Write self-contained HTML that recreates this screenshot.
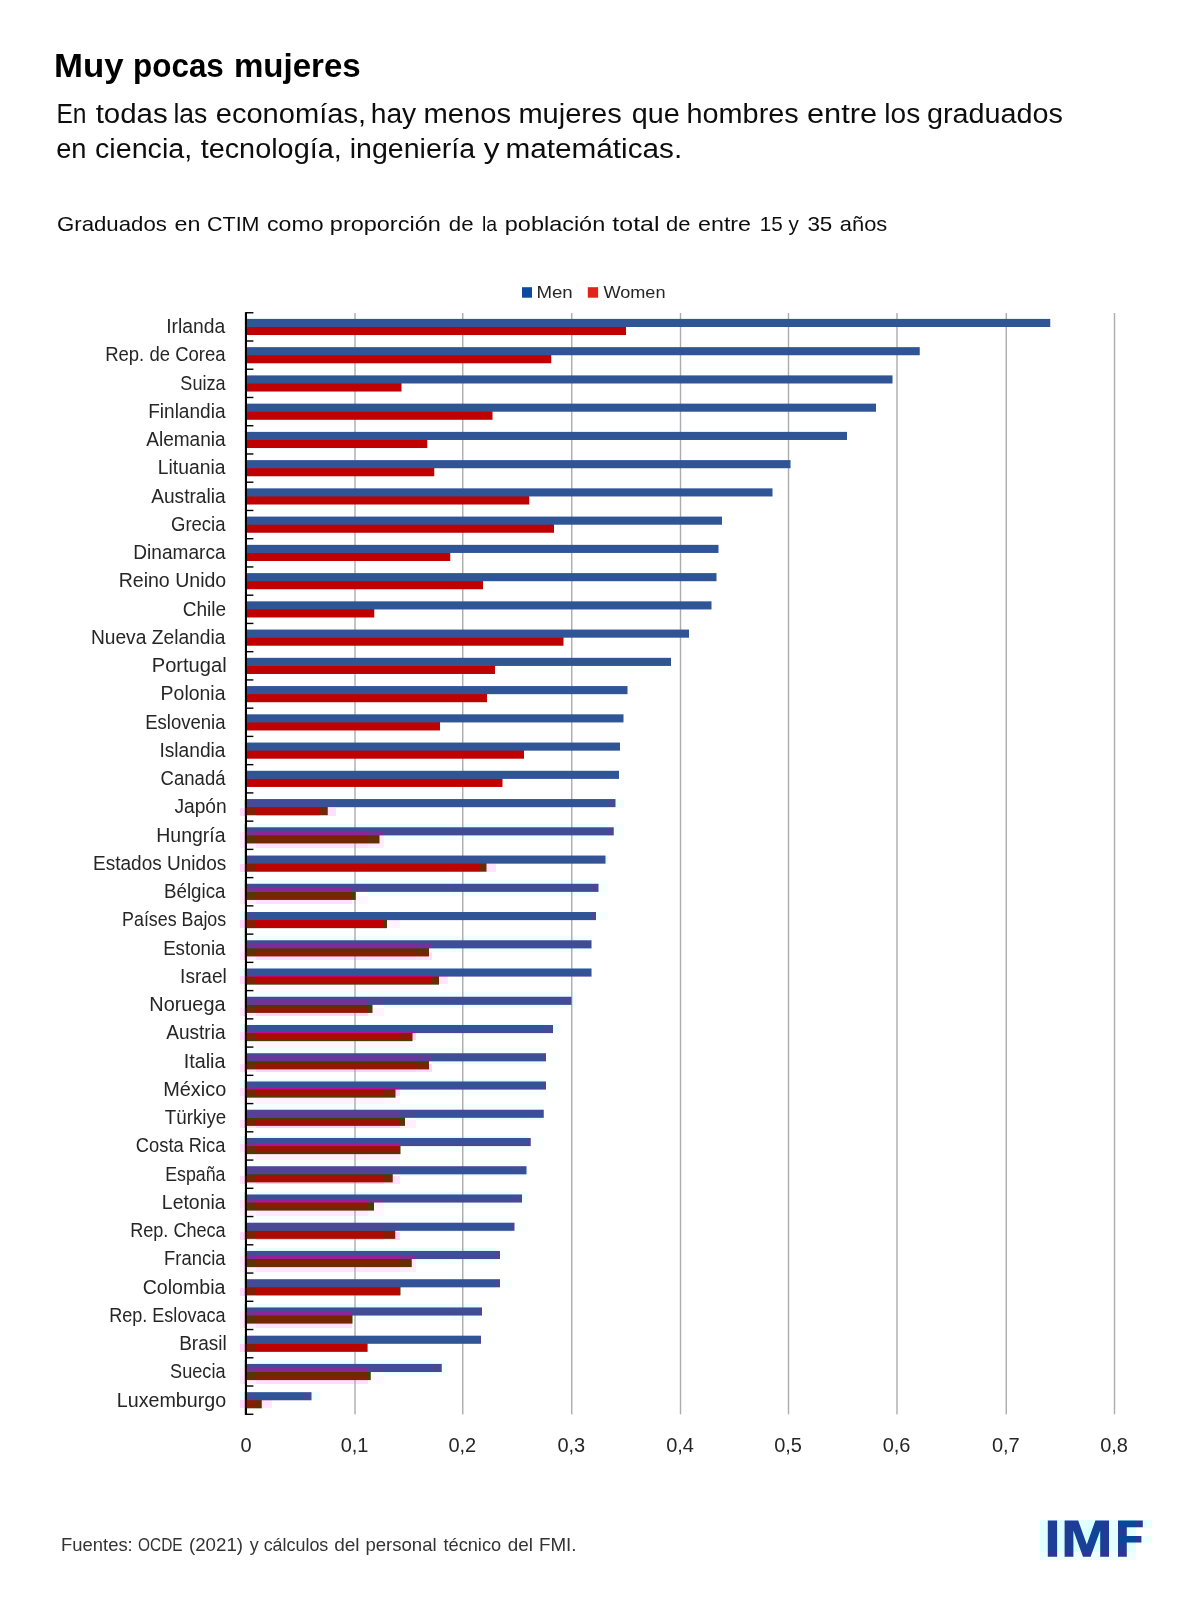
<!DOCTYPE html>
<html lang="es"><head><meta charset="utf-8"><title>Muy pocas mujeres</title>
<style>
html,body{margin:0;padding:0;background:#fff;}
body{width:1200px;height:1600px;overflow:hidden;position:relative;font-family:"Liberation Sans",sans-serif;}
svg{position:absolute;left:0;top:0;display:block;will-change:transform;}
text{font-family:"Liberation Sans",sans-serif;}
.cat{font-size:19.3px;fill:#262626;text-anchor:end;}
.ax{font-size:20px;fill:#262626;text-anchor:middle;}
.lg{font-size:16.6px;fill:#262626;}
</style></head><body>
<svg width="1200" height="1600" viewBox="0 0 1200 1600">
<rect width="1200" height="1600" fill="#ffffff"/>
<g shape-rendering="crispEdges">
<rect x="240" y="800" width="16" height="8" fill="#f6ffff"/>
<rect x="256" y="800" width="64" height="8" fill="#efffff"/>
<rect x="320" y="800" width="16" height="8" fill="#e7ffff"/>
<rect x="336" y="800" width="272" height="8" fill="#e1ffff"/>
<rect x="608" y="800" width="16" height="8" fill="#f1ffff"/>
<rect x="240" y="808" width="16" height="8" fill="#ffdcff"/>
<rect x="256" y="808" width="64" height="8" fill="#ffc1ff"/>
<rect x="320" y="808" width="16" height="8" fill="#ffe1ff"/>
<rect x="240" y="824" width="16" height="8" fill="#f4ffff"/>
<rect x="256" y="824" width="352" height="8" fill="#ebffff"/>
<rect x="608" y="824" width="16" height="8" fill="#f8ffff"/>
<rect x="240" y="832" width="16" height="8" fill="#ffedff"/>
<rect x="256" y="832" width="112" height="8" fill="#ffdfff"/>
<rect x="368" y="832" width="16" height="8" fill="#ffeaff"/>
<rect x="384" y="832" width="224" height="8" fill="#f1ffff"/>
<rect x="608" y="832" width="16" height="8" fill="#faffff"/>
<rect x="240" y="840" width="16" height="8" fill="#ffeeff"/>
<rect x="256" y="840" width="112" height="8" fill="#ffe1ff"/>
<rect x="368" y="840" width="16" height="8" fill="#ffeaff"/>
<rect x="240" y="848" width="16" height="8" fill="#feffff"/>
<rect x="256" y="848" width="352" height="8" fill="#fdffff"/>
<rect x="240" y="856" width="16" height="8" fill="#f0ffff"/>
<rect x="256" y="856" width="224" height="8" fill="#e4ffff"/>
<rect x="480" y="856" width="16" height="8" fill="#e1ffff"/>
<rect x="496" y="856" width="96" height="8" fill="#deffff"/>
<rect x="592" y="856" width="16" height="8" fill="#e3ffff"/>
<rect x="240" y="864" width="16" height="8" fill="#ffdaff"/>
<rect x="256" y="864" width="224" height="8" fill="#ffbdff"/>
<rect x="480" y="864" width="16" height="8" fill="#ffe4ff"/>
<rect x="240" y="880" width="16" height="8" fill="#f5ffff"/>
<rect x="256" y="880" width="336" height="8" fill="#edffff"/>
<rect x="592" y="880" width="16" height="8" fill="#f8ffff"/>
<rect x="240" y="888" width="16" height="8" fill="#fff0ff"/>
<rect x="256" y="888" width="96" height="8" fill="#ffe4ff"/>
<rect x="368" y="888" width="224" height="8" fill="#eeffff"/>
<rect x="592" y="888" width="16" height="8" fill="#f8ffff"/>
<rect x="240" y="896" width="16" height="8" fill="#ffecff"/>
<rect x="256" y="896" width="96" height="8" fill="#ffddff"/>
<rect x="352" y="896" width="16" height="8" fill="#fff7ff"/>
<rect x="240" y="912" width="16" height="8" fill="#ecffff"/>
<rect x="256" y="912" width="336" height="8" fill="#ddffff"/>
<rect x="592" y="912" width="16" height="8" fill="#f6ffff"/>
<rect x="240" y="920" width="16" height="8" fill="#ffd9ff"/>
<rect x="256" y="920" width="128" height="8" fill="#ffbcff"/>
<rect x="384" y="920" width="16" height="8" fill="#fff3ff"/>
<rect x="240" y="928" width="144" height="8" fill="#fffeff"/>
<rect x="240" y="936" width="16" height="8" fill="#f6ffff"/>
<rect x="256" y="936" width="320" height="8" fill="#efffff"/>
<rect x="576" y="936" width="16" height="8" fill="#f0ffff"/>
<rect x="240" y="944" width="16" height="8" fill="#fff3ff"/>
<rect x="256" y="944" width="160" height="8" fill="#ffe9ff"/>
<rect x="416" y="944" width="16" height="8" fill="#ffefff"/>
<rect x="432" y="944" width="144" height="8" fill="#ecffff"/>
<rect x="576" y="944" width="16" height="8" fill="#edffff"/>
<rect x="240" y="952" width="16" height="8" fill="#ffeaff"/>
<rect x="256" y="952" width="160" height="8" fill="#ffd9ff"/>
<rect x="416" y="952" width="16" height="8" fill="#ffe0ff"/>
<rect x="240" y="968" width="16" height="8" fill="#edffff"/>
<rect x="256" y="968" width="320" height="8" fill="#dfffff"/>
<rect x="576" y="968" width="16" height="8" fill="#e0ffff"/>
<rect x="240" y="976" width="16" height="8" fill="#ffdcff"/>
<rect x="256" y="976" width="176" height="8" fill="#ffc1ff"/>
<rect x="432" y="976" width="16" height="8" fill="#ffe5ff"/>
<rect x="448" y="976" width="144" height="8" fill="#fcffff"/>
<rect x="240" y="984" width="16" height="8" fill="#fffcff"/>
<rect x="256" y="984" width="176" height="8" fill="#fff9ff"/>
<rect x="432" y="984" width="16" height="8" fill="#fffdff"/>
<rect x="240" y="992" width="16" height="8" fill="#f7ffff"/>
<rect x="256" y="992" width="304" height="8" fill="#f1ffff"/>
<rect x="560" y="992" width="16" height="8" fill="#f5ffff"/>
<rect x="240" y="1000" width="16" height="8" fill="#fff6ff"/>
<rect x="256" y="1000" width="112" height="8" fill="#ffefff"/>
<rect x="368" y="1000" width="16" height="8" fill="#f9ffff"/>
<rect x="384" y="1000" width="176" height="8" fill="#eaffff"/>
<rect x="560" y="1000" width="16" height="8" fill="#f0ffff"/>
<rect x="240" y="1008" width="16" height="8" fill="#ffe7ff"/>
<rect x="256" y="1008" width="112" height="8" fill="#ffd5ff"/>
<rect x="368" y="1008" width="16" height="8" fill="#fff3ff"/>
<rect x="240" y="1024" width="16" height="8" fill="#eeffff"/>
<rect x="256" y="1024" width="288" height="8" fill="#e1ffff"/>
<rect x="544" y="1024" width="16" height="8" fill="#eeffff"/>
<rect x="240" y="1032" width="16" height="8" fill="#ffdfff"/>
<rect x="256" y="1032" width="144" height="8" fill="#ffc6ff"/>
<rect x="400" y="1032" width="16" height="8" fill="#ffd3ff"/>
<rect x="416" y="1032" width="128" height="8" fill="#faffff"/>
<rect x="544" y="1032" width="16" height="8" fill="#fcffff"/>
<rect x="240" y="1040" width="16" height="8" fill="#fff9ff"/>
<rect x="256" y="1040" width="144" height="8" fill="#fff5ff"/>
<rect x="400" y="1040" width="16" height="8" fill="#fff7ff"/>
<rect x="240" y="1048" width="16" height="8" fill="#f8ffff"/>
<rect x="256" y="1048" width="288" height="8" fill="#f3ffff"/>
<rect x="544" y="1048" width="16" height="8" fill="#feffff"/>
<rect x="240" y="1056" width="16" height="8" fill="#fff9ff"/>
<rect x="256" y="1056" width="160" height="8" fill="#fff4ff"/>
<rect x="416" y="1056" width="16" height="8" fill="#fff8ff"/>
<rect x="432" y="1056" width="112" height="8" fill="#e8ffff"/>
<rect x="544" y="1056" width="16" height="8" fill="#fcffff"/>
<rect x="240" y="1064" width="16" height="8" fill="#ffe5ff"/>
<rect x="256" y="1064" width="160" height="8" fill="#ffd1ff"/>
<rect x="416" y="1064" width="16" height="8" fill="#ffd9ff"/>
<rect x="240" y="1080" width="16" height="8" fill="#efffff"/>
<rect x="256" y="1080" width="288" height="8" fill="#e3ffff"/>
<rect x="544" y="1080" width="16" height="8" fill="#fcffff"/>
<rect x="240" y="1088" width="16" height="8" fill="#ffe2ff"/>
<rect x="256" y="1088" width="128" height="8" fill="#ffccff"/>
<rect x="384" y="1088" width="16" height="8" fill="#ffdbff"/>
<rect x="400" y="1088" width="144" height="8" fill="#f8ffff"/>
<rect x="544" y="1088" width="16" height="8" fill="#feffff"/>
<rect x="240" y="1096" width="16" height="8" fill="#fff7ff"/>
<rect x="256" y="1096" width="128" height="8" fill="#fff1ff"/>
<rect x="384" y="1096" width="16" height="8" fill="#fff5ff"/>
<rect x="240" y="1104" width="16" height="8" fill="#faffff"/>
<rect x="256" y="1104" width="288" height="8" fill="#f5ffff"/>
<rect x="240" y="1112" width="16" height="8" fill="#fffcff"/>
<rect x="256" y="1112" width="144" height="8" fill="#fff9ff"/>
<rect x="400" y="1112" width="16" height="8" fill="#f1ffff"/>
<rect x="416" y="1112" width="112" height="8" fill="#e6ffff"/>
<rect x="528" y="1112" width="16" height="8" fill="#e7ffff"/>
<rect x="240" y="1120" width="16" height="8" fill="#ffe3ff"/>
<rect x="256" y="1120" width="144" height="8" fill="#ffcdff"/>
<rect x="400" y="1120" width="16" height="8" fill="#ffefff"/>
<rect x="240" y="1136" width="16" height="8" fill="#f1ffff"/>
<rect x="256" y="1136" width="272" height="8" fill="#e5ffff"/>
<rect x="528" y="1136" width="16" height="8" fill="#fbffff"/>
<rect x="240" y="1144" width="16" height="8" fill="#ffe5ff"/>
<rect x="256" y="1144" width="144" height="8" fill="#ffd1ff"/>
<rect x="400" y="1144" width="16" height="8" fill="#f9ffff"/>
<rect x="416" y="1144" width="112" height="8" fill="#f6ffff"/>
<rect x="528" y="1144" width="16" height="8" fill="#fdffff"/>
<rect x="240" y="1152" width="16" height="8" fill="#fff5ff"/>
<rect x="256" y="1152" width="144" height="8" fill="#ffedff"/>
<rect x="400" y="1152" width="16" height="8" fill="#fffeff"/>
<rect x="240" y="1160" width="16" height="8" fill="#fbffff"/>
<rect x="256" y="1160" width="256" height="8" fill="#f7ffff"/>
<rect x="512" y="1160" width="16" height="8" fill="#f8ffff"/>
<rect x="256" y="1168" width="128" height="8" fill="#fffeff"/>
<rect x="384" y="1168" width="16" height="8" fill="#f3ffff"/>
<rect x="400" y="1168" width="112" height="8" fill="#e4ffff"/>
<rect x="512" y="1168" width="16" height="8" fill="#e7ffff"/>
<rect x="240" y="1176" width="16" height="8" fill="#ffe0ff"/>
<rect x="256" y="1176" width="128" height="8" fill="#ffc8ff"/>
<rect x="384" y="1176" width="16" height="8" fill="#ffe1ff"/>
<rect x="240" y="1192" width="16" height="8" fill="#f2ffff"/>
<rect x="256" y="1192" width="256" height="8" fill="#e7ffff"/>
<rect x="512" y="1192" width="16" height="8" fill="#f0ffff"/>
<rect x="240" y="1200" width="16" height="8" fill="#ffe8ff"/>
<rect x="256" y="1200" width="112" height="8" fill="#ffd6ff"/>
<rect x="368" y="1200" width="16" height="8" fill="#fff3ff"/>
<rect x="384" y="1200" width="128" height="8" fill="#f4ffff"/>
<rect x="512" y="1200" width="16" height="8" fill="#f8ffff"/>
<rect x="240" y="1208" width="16" height="8" fill="#fff2ff"/>
<rect x="256" y="1208" width="112" height="8" fill="#ffe9ff"/>
<rect x="368" y="1208" width="16" height="8" fill="#fff7ff"/>
<rect x="240" y="1216" width="16" height="8" fill="#fcffff"/>
<rect x="256" y="1216" width="256" height="8" fill="#f9ffff"/>
<rect x="512" y="1216" width="16" height="8" fill="#feffff"/>
<rect x="240" y="1224" width="16" height="8" fill="#faffff"/>
<rect x="256" y="1224" width="128" height="8" fill="#f6ffff"/>
<rect x="384" y="1224" width="16" height="8" fill="#f0ffff"/>
<rect x="400" y="1224" width="112" height="8" fill="#e2ffff"/>
<rect x="512" y="1224" width="16" height="8" fill="#faffff"/>
<rect x="240" y="1232" width="16" height="8" fill="#ffdeff"/>
<rect x="256" y="1232" width="128" height="8" fill="#ffc4ff"/>
<rect x="384" y="1232" width="16" height="8" fill="#ffd6ff"/>
<rect x="240" y="1248" width="16" height="8" fill="#f3ffff"/>
<rect x="256" y="1248" width="240" height="8" fill="#e9ffff"/>
<rect x="496" y="1248" width="16" height="8" fill="#faffff"/>
<rect x="240" y="1256" width="16" height="8" fill="#ffebff"/>
<rect x="256" y="1256" width="144" height="8" fill="#ffdbff"/>
<rect x="400" y="1256" width="16" height="8" fill="#ffe7ff"/>
<rect x="416" y="1256" width="80" height="8" fill="#f2ffff"/>
<rect x="496" y="1256" width="16" height="8" fill="#fcffff"/>
<rect x="240" y="1264" width="16" height="8" fill="#fff0ff"/>
<rect x="256" y="1264" width="144" height="8" fill="#ffe4ff"/>
<rect x="400" y="1264" width="16" height="8" fill="#ffebff"/>
<rect x="240" y="1272" width="16" height="8" fill="#fdffff"/>
<rect x="256" y="1272" width="240" height="8" fill="#fcffff"/>
<rect x="496" y="1272" width="16" height="8" fill="#feffff"/>
<rect x="240" y="1280" width="16" height="8" fill="#f4ffff"/>
<rect x="256" y="1280" width="144" height="8" fill="#ecffff"/>
<rect x="400" y="1280" width="96" height="8" fill="#e0ffff"/>
<rect x="496" y="1280" width="16" height="8" fill="#f7ffff"/>
<rect x="240" y="1288" width="16" height="8" fill="#ffdcff"/>
<rect x="256" y="1288" width="144" height="8" fill="#ffc0ff"/>
<rect x="400" y="1288" width="16" height="8" fill="#fffdff"/>
<rect x="240" y="1304" width="16" height="8" fill="#f4ffff"/>
<rect x="256" y="1304" width="224" height="8" fill="#ecffff"/>
<rect x="480" y="1304" width="16" height="8" fill="#fdffff"/>
<rect x="240" y="1312" width="16" height="8" fill="#ffeeff"/>
<rect x="256" y="1312" width="96" height="8" fill="#ffe1ff"/>
<rect x="352" y="1312" width="16" height="8" fill="#f2ffff"/>
<rect x="368" y="1312" width="112" height="8" fill="#f0ffff"/>
<rect x="480" y="1312" width="16" height="8" fill="#fdffff"/>
<rect x="240" y="1320" width="16" height="8" fill="#ffeeff"/>
<rect x="256" y="1320" width="96" height="8" fill="#ffe0ff"/>
<rect x="352" y="1320" width="16" height="8" fill="#fffeff"/>
<rect x="256" y="1328" width="224" height="8" fill="#feffff"/>
<rect x="240" y="1336" width="16" height="8" fill="#eeffff"/>
<rect x="256" y="1336" width="112" height="8" fill="#e1ffff"/>
<rect x="368" y="1336" width="112" height="8" fill="#deffff"/>
<rect x="480" y="1336" width="16" height="8" fill="#fdffff"/>
<rect x="240" y="1344" width="16" height="8" fill="#ffd9ff"/>
<rect x="256" y="1344" width="96" height="8" fill="#ffbcff"/>
<rect x="352" y="1344" width="16" height="8" fill="#ffbeff"/>
<rect x="240" y="1360" width="16" height="8" fill="#f5ffff"/>
<rect x="256" y="1360" width="176" height="8" fill="#eeffff"/>
<rect x="432" y="1360" width="16" height="8" fill="#f4ffff"/>
<rect x="240" y="1368" width="16" height="8" fill="#fff1ff"/>
<rect x="256" y="1368" width="112" height="8" fill="#ffe6ff"/>
<rect x="368" y="1368" width="16" height="8" fill="#f9ffff"/>
<rect x="384" y="1368" width="48" height="8" fill="#eeffff"/>
<rect x="432" y="1368" width="16" height="8" fill="#f5ffff"/>
<rect x="240" y="1376" width="16" height="8" fill="#ffebff"/>
<rect x="256" y="1376" width="112" height="8" fill="#ffdcff"/>
<rect x="368" y="1376" width="16" height="8" fill="#fff9ff"/>
<rect x="240" y="1392" width="16" height="8" fill="#ecffff"/>
<rect x="256" y="1392" width="48" height="8" fill="#deffff"/>
<rect x="304" y="1392" width="16" height="8" fill="#efffff"/>
<rect x="240" y="1400" width="16" height="8" fill="#ffdaff"/>
<rect x="256" y="1400" width="16" height="8" fill="#ffe8ff"/>
<rect x="272" y="1400" width="48" height="8" fill="#feffff"/>
<rect x="240" y="1408" width="16" height="8" fill="#fffdff"/>
<rect x="256" y="1408" width="16" height="8" fill="#fffeff"/>
<rect x="1040" y="1520" width="16" height="8" fill="#e1ffff"/>
<rect x="1056" y="1520" width="16" height="8" fill="#e0ffff"/>
<rect x="1072" y="1520" width="16" height="8" fill="#e4ffff"/>
<rect x="1088" y="1520" width="16" height="8" fill="#dbffff"/>
<rect x="1104" y="1520" width="16" height="8" fill="#e6ffff"/>
<rect x="1120" y="1520" width="16" height="8" fill="#c8ffff"/>
<rect x="1136" y="1520" width="16" height="8" fill="#e9ffff"/>
<rect x="1040" y="1528" width="16" height="8" fill="#dfffff"/>
<rect x="1056" y="1528" width="16" height="8" fill="#deffff"/>
<rect x="1072" y="1528" width="16" height="8" fill="#daffff"/>
<rect x="1088" y="1528" width="16" height="8" fill="#d0ffff"/>
<rect x="1104" y="1528" width="16" height="8" fill="#e4ffff"/>
<rect x="1120" y="1528" width="16" height="8" fill="#e5ffff"/>
<rect x="1040" y="1536" width="16" height="8" fill="#dfffff"/>
<rect x="1056" y="1536" width="16" height="8" fill="#deffff"/>
<rect x="1072" y="1536" width="16" height="8" fill="#d9ffff"/>
<rect x="1088" y="1536" width="16" height="8" fill="#d1ffff"/>
<rect x="1104" y="1536" width="16" height="8" fill="#e4ffff"/>
<rect x="1120" y="1536" width="16" height="8" fill="#c8ffff"/>
<rect x="1136" y="1536" width="16" height="8" fill="#eeffff"/>
<rect x="1040" y="1544" width="16" height="8" fill="#dfffff"/>
<rect x="1056" y="1544" width="16" height="8" fill="#deffff"/>
<rect x="1072" y="1544" width="32" height="8" fill="#daffff"/>
<rect x="1104" y="1544" width="16" height="8" fill="#e4ffff"/>
<rect x="1120" y="1544" width="16" height="8" fill="#e5ffff"/>
<rect x="1040" y="1552" width="16" height="8" fill="#ecffff"/>
<rect x="1056" y="1552" width="16" height="8" fill="#ebffff"/>
<rect x="1072" y="1552" width="32" height="8" fill="#eeffff"/>
<rect x="1104" y="1552" width="32" height="8" fill="#efffff"/>
</g>
<text x="53.96" y="77" font-size="32.4px" font-weight="bold" fill="#000" textLength="69.56" lengthAdjust="spacingAndGlyphs">Muy</text>
<text x="133.10" y="77" font-size="32.4px" font-weight="bold" fill="#000" textLength="90.73" lengthAdjust="spacingAndGlyphs">pocas</text>
<text x="233.96" y="77" font-size="32.4px" font-weight="bold" fill="#000" textLength="126.81" lengthAdjust="spacingAndGlyphs">mujeres</text>
<text x="56.42" y="123" font-size="26.8px" fill="#0d0d0d" textLength="30.07" lengthAdjust="spacingAndGlyphs">En</text>
<text x="95.65" y="123" font-size="26.8px" fill="#0d0d0d" textLength="72.12" lengthAdjust="spacingAndGlyphs">todas</text>
<text x="173.46" y="123" font-size="26.8px" fill="#0d0d0d" textLength="33.85" lengthAdjust="spacingAndGlyphs">las</text>
<text x="215.73" y="123" font-size="26.8px" fill="#0d0d0d" textLength="150.29" lengthAdjust="spacingAndGlyphs">economías,</text>
<text x="370.73" y="123" font-size="26.8px" fill="#0d0d0d" textLength="45.49" lengthAdjust="spacingAndGlyphs">hay</text>
<text x="423.41" y="123" font-size="26.8px" fill="#0d0d0d" textLength="87.59" lengthAdjust="spacingAndGlyphs">menos</text>
<text x="518.42" y="123" font-size="26.8px" fill="#0d0d0d" textLength="103.28" lengthAdjust="spacingAndGlyphs">mujeres</text>
<text x="631.78" y="123" font-size="26.8px" fill="#0d0d0d" textLength="47.93" lengthAdjust="spacingAndGlyphs">que</text>
<text x="686.57" y="123" font-size="26.8px" fill="#0d0d0d" textLength="112.10" lengthAdjust="spacingAndGlyphs">hombres</text>
<text x="807.00" y="123" font-size="26.8px" fill="#0d0d0d" textLength="70.09" lengthAdjust="spacingAndGlyphs">entre</text>
<text x="884.37" y="123" font-size="26.8px" fill="#0d0d0d" textLength="35.90" lengthAdjust="spacingAndGlyphs">los</text>
<text x="927.00" y="123" font-size="26.8px" fill="#0d0d0d" textLength="136.00" lengthAdjust="spacingAndGlyphs">graduados</text>
<text x="56.23" y="158" font-size="26.8px" fill="#0d0d0d" textLength="30.27" lengthAdjust="spacingAndGlyphs">en</text>
<text x="95.00" y="158" font-size="26.8px" fill="#0d0d0d" textLength="97.17" lengthAdjust="spacingAndGlyphs">ciencia,</text>
<text x="200.66" y="158" font-size="26.8px" fill="#0d0d0d" textLength="141.09" lengthAdjust="spacingAndGlyphs">tecnología,</text>
<text x="349.74" y="158" font-size="26.8px" fill="#0d0d0d" textLength="125.35" lengthAdjust="spacingAndGlyphs">ingeniería</text>
<text x="483.70" y="158" font-size="26.8px" fill="#0d0d0d" textLength="15.85" lengthAdjust="spacingAndGlyphs">y</text>
<text x="505.57" y="158" font-size="26.8px" fill="#0d0d0d" textLength="176.58" lengthAdjust="spacingAndGlyphs">matemáticas.</text>
<text x="57.00" y="230.5" font-size="20.2px" fill="#0d0d0d" textLength="109.86" lengthAdjust="spacingAndGlyphs">Graduados</text>
<text x="174.56" y="230.5" font-size="20.2px" fill="#0d0d0d" textLength="25.90" lengthAdjust="spacingAndGlyphs">en</text>
<text x="207.00" y="230.5" font-size="20.2px" fill="#0d0d0d" textLength="52.53" lengthAdjust="spacingAndGlyphs">CTIM</text>
<text x="267.00" y="230.5" font-size="20.2px" fill="#0d0d0d" textLength="56.67" lengthAdjust="spacingAndGlyphs">como</text>
<text x="329.84" y="230.5" font-size="20.2px" fill="#0d0d0d" textLength="110.93" lengthAdjust="spacingAndGlyphs">proporción</text>
<text x="448.85" y="230.5" font-size="20.2px" fill="#0d0d0d" textLength="24.74" lengthAdjust="spacingAndGlyphs">de</text>
<text x="482.00" y="230.5" font-size="20.2px" fill="#0d0d0d" textLength="15.13" lengthAdjust="spacingAndGlyphs">la</text>
<text x="504.85" y="230.5" font-size="20.2px" fill="#0d0d0d" textLength="100.33" lengthAdjust="spacingAndGlyphs">población</text>
<text x="612.39" y="230.5" font-size="20.2px" fill="#0d0d0d" textLength="47.09" lengthAdjust="spacingAndGlyphs">total</text>
<text x="666.14" y="230.5" font-size="20.2px" fill="#0d0d0d" textLength="24.47" lengthAdjust="spacingAndGlyphs">de</text>
<text x="698.08" y="230.5" font-size="20.2px" fill="#0d0d0d" textLength="52.92" lengthAdjust="spacingAndGlyphs">entre</text>
<text x="759.83" y="230.5" font-size="20.2px" fill="#0d0d0d" textLength="39.12" lengthAdjust="spacingAndGlyphs">15 y</text>
<text x="807.40" y="230.5" font-size="20.2px" fill="#0d0d0d" textLength="24.97" lengthAdjust="spacingAndGlyphs">35</text>
<text x="839.82" y="230.5" font-size="20.2px" fill="#0d0d0d" textLength="47.42" lengthAdjust="spacingAndGlyphs">años</text>
<text x="61.00" y="1551.2" font-size="18.2px" fill="#333333" textLength="71.73" lengthAdjust="spacingAndGlyphs">Fuentes:</text>
<text x="138.05" y="1551.2" font-size="18.2px" fill="#333333" textLength="44.61" lengthAdjust="spacingAndGlyphs">OCDE</text>
<text x="189.00" y="1551.2" font-size="18.2px" fill="#333333" textLength="54.00" lengthAdjust="spacingAndGlyphs">(2021)</text>
<text x="249.76" y="1551.2" font-size="18.2px" fill="#333333" textLength="78.52" lengthAdjust="spacingAndGlyphs">y cálculos</text>
<text x="334.17" y="1551.2" font-size="18.2px" fill="#333333" textLength="25.45" lengthAdjust="spacingAndGlyphs">del</text>
<text x="365.42" y="1551.2" font-size="18.2px" fill="#333333" textLength="71.18" lengthAdjust="spacingAndGlyphs">personal</text>
<text x="443.48" y="1551.2" font-size="18.2px" fill="#333333" textLength="57.68" lengthAdjust="spacingAndGlyphs">técnico</text>
<text x="507.85" y="1551.2" font-size="18.2px" fill="#333333" textLength="25.15" lengthAdjust="spacingAndGlyphs">del</text>
<text x="539.00" y="1551.2" font-size="18.2px" fill="#333333" textLength="37.54" lengthAdjust="spacingAndGlyphs">FMI.</text>
<text x="536.42" y="297.7" font-size="16.6px" fill="#262626" textLength="36.32" lengthAdjust="spacingAndGlyphs">Men</text>
<text x="603.40" y="297.7" font-size="16.6px" fill="#262626" textLength="62.11" lengthAdjust="spacingAndGlyphs">Women</text>
<rect x="522" y="287.2" width="10" height="10.5" fill="#0a4ba0"/>
<rect x="587.8" y="287.2" width="10.3" height="10.5" fill="#e12319"/>
<rect x="354.30" y="313" width="1.4" height="1101.3" fill="#acacac"/>
<rect x="462.05" y="313" width="1.4" height="1101.3" fill="#acacac"/>
<rect x="571.05" y="313" width="1.4" height="1101.3" fill="#acacac"/>
<rect x="679.80" y="313" width="1.4" height="1101.3" fill="#acacac"/>
<rect x="787.80" y="313" width="1.4" height="1101.3" fill="#acacac"/>
<rect x="896.30" y="313" width="1.4" height="1101.3" fill="#acacac"/>
<rect x="1005.55" y="313" width="1.4" height="1101.3" fill="#acacac"/>
<rect x="1113.80" y="313" width="1.4" height="1101.3" fill="#acacac"/>
<rect x="246.00" y="326.30" width="380.00" height="8.75" fill="#c00000"/>
<rect x="246.00" y="318.90" width="804.25" height="8.10" fill="#2f5597"/>
<rect x="246.00" y="354.54" width="305.25" height="8.75" fill="#c00000"/>
<rect x="246.00" y="347.14" width="673.75" height="8.10" fill="#2f5597"/>
<rect x="246.00" y="382.79" width="155.50" height="8.75" fill="#c00000"/>
<rect x="246.00" y="375.39" width="646.50" height="8.10" fill="#2f5597"/>
<rect x="246.00" y="411.03" width="246.50" height="8.75" fill="#c00000"/>
<rect x="246.00" y="403.63" width="630.00" height="8.10" fill="#2f5597"/>
<rect x="246.00" y="439.28" width="181.25" height="8.75" fill="#c00000"/>
<rect x="246.00" y="431.88" width="601.00" height="8.10" fill="#2f5597"/>
<rect x="246.00" y="467.52" width="188.25" height="8.75" fill="#c00000"/>
<rect x="246.00" y="460.12" width="544.50" height="8.10" fill="#2f5597"/>
<rect x="246.00" y="495.76" width="283.25" height="8.75" fill="#c00000"/>
<rect x="246.00" y="488.36" width="526.50" height="8.10" fill="#2f5597"/>
<rect x="246.00" y="524.01" width="308.00" height="8.75" fill="#c00000"/>
<rect x="246.00" y="516.61" width="476.00" height="8.10" fill="#2f5597"/>
<rect x="246.00" y="552.25" width="204.25" height="8.75" fill="#c00000"/>
<rect x="246.00" y="544.85" width="472.50" height="8.10" fill="#2f5597"/>
<rect x="246.00" y="580.50" width="237.00" height="8.75" fill="#c00000"/>
<rect x="246.00" y="573.10" width="470.50" height="8.10" fill="#2f5597"/>
<rect x="246.00" y="608.74" width="128.25" height="8.75" fill="#c00000"/>
<rect x="246.00" y="601.34" width="465.50" height="8.10" fill="#2f5597"/>
<rect x="246.00" y="636.98" width="317.50" height="8.75" fill="#c00000"/>
<rect x="246.00" y="629.58" width="443.00" height="8.10" fill="#2f5597"/>
<rect x="246.00" y="665.23" width="249.00" height="8.75" fill="#c00000"/>
<rect x="246.00" y="657.83" width="425.00" height="8.10" fill="#2f5597"/>
<rect x="246.00" y="693.47" width="241.00" height="8.75" fill="#c00000"/>
<rect x="246.00" y="686.07" width="381.50" height="8.10" fill="#2f5597"/>
<rect x="246.00" y="721.72" width="194.00" height="8.75" fill="#c00000"/>
<rect x="246.00" y="714.32" width="377.50" height="8.10" fill="#2f5597"/>
<rect x="246.00" y="749.96" width="278.00" height="8.75" fill="#c00000"/>
<rect x="246.00" y="742.56" width="374.00" height="8.10" fill="#2f5597"/>
<rect x="246.00" y="778.20" width="256.50" height="8.75" fill="#c00000"/>
<rect x="246.00" y="770.80" width="373.00" height="8.10" fill="#2f5597"/>
<rect x="246.00" y="806.45" width="10.00" height="1.55" fill="#304900"/>
<rect x="256.00" y="806.45" width="64.00" height="1.55" fill="#294d00"/>
<rect x="320.00" y="806.45" width="7.75" height="1.55" fill="#225100"/>
<rect x="246.00" y="808.00" width="10.00" height="7.20" fill="#7e2200"/>
<rect x="256.00" y="808.00" width="64.00" height="7.20" fill="#b30700"/>
<rect x="320.00" y="808.00" width="7.75" height="7.20" fill="#742700"/>
<rect x="246.00" y="799.05" width="369.50" height="0.95" fill="#2f5597"/>
<rect x="246.00" y="800.00" width="10.00" height="7.15" fill="#484897"/>
<rect x="256.00" y="800.00" width="64.00" height="7.15" fill="#414c97"/>
<rect x="320.00" y="800.00" width="16.00" height="7.15" fill="#3a5097"/>
<rect x="336.00" y="800.00" width="272.00" height="7.15" fill="#335397"/>
<rect x="608.00" y="800.00" width="7.50" height="7.15" fill="#434b97"/>
<rect x="246.00" y="834.69" width="10.00" height="5.31" fill="#5d3200"/>
<rect x="256.00" y="834.69" width="112.00" height="5.31" fill="#782400"/>
<rect x="368.00" y="834.69" width="11.50" height="5.31" fill="#633000"/>
<rect x="246.00" y="840.00" width="10.00" height="3.44" fill="#5a3400"/>
<rect x="256.00" y="840.00" width="112.00" height="3.44" fill="#732700"/>
<rect x="368.00" y="840.00" width="11.50" height="3.44" fill="#632f00"/>
<rect x="246.00" y="827.29" width="10.00" height="4.71" fill="#464997"/>
<rect x="256.00" y="827.29" width="352.00" height="4.71" fill="#3d4e97"/>
<rect x="608.00" y="827.29" width="5.75" height="4.71" fill="#4a4797"/>
<rect x="246.00" y="832.00" width="10.00" height="3.39" fill="#753297"/>
<rect x="256.00" y="832.00" width="112.00" height="3.39" fill="#902397"/>
<rect x="368.00" y="832.00" width="16.00" height="3.39" fill="#7a2f97"/>
<rect x="384.00" y="832.00" width="224.00" height="3.39" fill="#434b97"/>
<rect x="608.00" y="832.00" width="5.75" height="3.39" fill="#4c4697"/>
<rect x="246.00" y="862.94" width="10.00" height="1.06" fill="#2a4c00"/>
<rect x="256.00" y="862.94" width="224.00" height="1.06" fill="#1f5200"/>
<rect x="480.00" y="862.94" width="6.50" height="1.06" fill="#1b5400"/>
<rect x="246.00" y="864.00" width="10.00" height="7.69" fill="#821f00"/>
<rect x="256.00" y="864.00" width="224.00" height="7.69" fill="#bb0300"/>
<rect x="480.00" y="864.00" width="6.50" height="7.69" fill="#6e2a00"/>
<rect x="246.00" y="855.54" width="10.00" height="0.46" fill="#504497"/>
<rect x="256.00" y="855.54" width="336.00" height="0.46" fill="#4f4597"/>
<rect x="592.00" y="855.54" width="13.50" height="0.46" fill="#4f4497"/>
<rect x="246.00" y="856.00" width="10.00" height="7.64" fill="#424b97"/>
<rect x="256.00" y="856.00" width="224.00" height="7.64" fill="#375197"/>
<rect x="480.00" y="856.00" width="16.00" height="7.64" fill="#335397"/>
<rect x="496.00" y="856.00" width="96.00" height="7.64" fill="#315497"/>
<rect x="592.00" y="856.00" width="13.50" height="7.64" fill="#365297"/>
<rect x="246.00" y="891.18" width="10.00" height="4.82" fill="#573600"/>
<rect x="256.00" y="891.18" width="96.00" height="4.82" fill="#6e2a00"/>
<rect x="352.00" y="891.18" width="3.75" height="4.82" fill="#394500"/>
<rect x="246.00" y="896.00" width="10.00" height="3.93" fill="#5f3200"/>
<rect x="256.00" y="896.00" width="96.00" height="3.93" fill="#7c2300"/>
<rect x="352.00" y="896.00" width="3.75" height="3.93" fill="#493d00"/>
<rect x="246.00" y="883.78" width="10.00" height="4.22" fill="#474997"/>
<rect x="256.00" y="883.78" width="336.00" height="4.22" fill="#3f4d97"/>
<rect x="592.00" y="883.78" width="6.50" height="4.22" fill="#4a4797"/>
<rect x="246.00" y="888.00" width="10.00" height="3.88" fill="#6f3597"/>
<rect x="256.00" y="888.00" width="96.00" height="3.88" fill="#862997"/>
<rect x="352.00" y="888.00" width="16.00" height="3.88" fill="#514497"/>
<rect x="368.00" y="888.00" width="224.00" height="3.88" fill="#414c97"/>
<rect x="592.00" y="888.00" width="6.50" height="3.88" fill="#4a4797"/>
<rect x="246.00" y="919.42" width="10.00" height="8.58" fill="#841f00"/>
<rect x="256.00" y="919.42" width="128.00" height="8.58" fill="#bd0100"/>
<rect x="384.00" y="919.42" width="3.00" height="8.58" fill="#523800"/>
<rect x="246.00" y="928.00" width="10.00" height="0.17" fill="#3b4400"/>
<rect x="256.00" y="928.00" width="128.00" height="0.17" fill="#3c4300"/>
<rect x="384.00" y="928.00" width="3.00" height="0.17" fill="#3a4400"/>
<rect x="246.00" y="912.02" width="10.00" height="7.98" fill="#3e4d97"/>
<rect x="256.00" y="912.02" width="336.00" height="7.98" fill="#2f5597"/>
<rect x="592.00" y="912.02" width="4.00" height="7.98" fill="#494897"/>
<rect x="246.00" y="920.00" width="10.00" height="0.12" fill="#9b1e97"/>
<rect x="256.00" y="920.00" width="128.00" height="0.12" fill="#d50097"/>
<rect x="384.00" y="920.00" width="16.00" height="0.12" fill="#693797"/>
<rect x="400.00" y="920.00" width="196.00" height="0.12" fill="#514497"/>
<rect x="246.00" y="947.67" width="10.00" height="4.33" fill="#513800"/>
<rect x="256.00" y="947.67" width="160.00" height="4.33" fill="#642f00"/>
<rect x="416.00" y="947.67" width="13.00" height="4.33" fill="#583500"/>
<rect x="246.00" y="952.00" width="10.00" height="4.42" fill="#632f00"/>
<rect x="256.00" y="952.00" width="160.00" height="4.42" fill="#841f00"/>
<rect x="416.00" y="952.00" width="13.00" height="4.42" fill="#762600"/>
<rect x="246.00" y="940.27" width="10.00" height="3.73" fill="#484897"/>
<rect x="256.00" y="940.27" width="320.00" height="3.73" fill="#414c97"/>
<rect x="576.00" y="940.27" width="15.50" height="3.73" fill="#424b97"/>
<rect x="246.00" y="944.00" width="10.00" height="4.37" fill="#693797"/>
<rect x="256.00" y="944.00" width="160.00" height="4.37" fill="#7b2e97"/>
<rect x="416.00" y="944.00" width="16.00" height="4.37" fill="#703497"/>
<rect x="432.00" y="944.00" width="144.00" height="4.37" fill="#3e4d97"/>
<rect x="576.00" y="944.00" width="15.50" height="4.37" fill="#3f4d97"/>
<rect x="246.00" y="975.91" width="10.00" height="8.09" fill="#7e2200"/>
<rect x="256.00" y="975.91" width="176.00" height="8.09" fill="#b30700"/>
<rect x="432.00" y="975.91" width="7.00" height="8.09" fill="#6d2a00"/>
<rect x="246.00" y="984.00" width="10.00" height="0.66" fill="#404100"/>
<rect x="256.00" y="984.00" width="176.00" height="0.66" fill="#453f00"/>
<rect x="432.00" y="984.00" width="7.00" height="0.66" fill="#3e4200"/>
<rect x="246.00" y="968.51" width="10.00" height="7.49" fill="#3f4d97"/>
<rect x="256.00" y="968.51" width="320.00" height="7.49" fill="#315497"/>
<rect x="576.00" y="968.51" width="15.50" height="7.49" fill="#325397"/>
<rect x="246.00" y="976.00" width="10.00" height="0.61" fill="#962197"/>
<rect x="256.00" y="976.00" width="176.00" height="0.61" fill="#cb0697"/>
<rect x="432.00" y="976.00" width="16.00" height="0.61" fill="#852997"/>
<rect x="448.00" y="976.00" width="128.00" height="0.61" fill="#4e4597"/>
<rect x="576.00" y="976.00" width="15.50" height="0.61" fill="#4f4597"/>
<rect x="246.00" y="1004.16" width="10.00" height="3.84" fill="#4b3b00"/>
<rect x="256.00" y="1004.16" width="112.00" height="3.84" fill="#593400"/>
<rect x="368.00" y="1004.16" width="4.50" height="3.84" fill="#334800"/>
<rect x="246.00" y="1008.00" width="10.00" height="4.91" fill="#682d00"/>
<rect x="256.00" y="1008.00" width="112.00" height="4.91" fill="#8c1a00"/>
<rect x="368.00" y="1008.00" width="4.50" height="4.91" fill="#513900"/>
<rect x="246.00" y="996.76" width="10.00" height="3.24" fill="#494897"/>
<rect x="256.00" y="996.76" width="304.00" height="3.24" fill="#434b97"/>
<rect x="560.00" y="996.76" width="11.50" height="3.24" fill="#474997"/>
<rect x="246.00" y="1000.00" width="10.00" height="4.86" fill="#633b97"/>
<rect x="256.00" y="1000.00" width="112.00" height="4.86" fill="#713397"/>
<rect x="368.00" y="1000.00" width="16.00" height="4.86" fill="#4b4797"/>
<rect x="384.00" y="1000.00" width="176.00" height="4.86" fill="#3c4e97"/>
<rect x="560.00" y="1000.00" width="11.50" height="4.86" fill="#424b97"/>
<rect x="246.00" y="1032.40" width="10.00" height="7.60" fill="#782500"/>
<rect x="256.00" y="1032.40" width="144.00" height="7.60" fill="#a90c00"/>
<rect x="400.00" y="1032.40" width="12.50" height="7.60" fill="#8f1900"/>
<rect x="246.00" y="1040.00" width="10.00" height="1.15" fill="#443f00"/>
<rect x="256.00" y="1040.00" width="144.00" height="1.15" fill="#4d3b00"/>
<rect x="400.00" y="1040.00" width="12.50" height="1.15" fill="#493d00"/>
<rect x="246.00" y="1025.00" width="10.00" height="7.00" fill="#404c97"/>
<rect x="256.00" y="1025.00" width="288.00" height="7.00" fill="#335397"/>
<rect x="544.00" y="1025.00" width="9.00" height="7.00" fill="#404c97"/>
<rect x="246.00" y="1032.00" width="10.00" height="1.10" fill="#902497"/>
<rect x="256.00" y="1032.00" width="144.00" height="1.10" fill="#c00b97"/>
<rect x="400.00" y="1032.00" width="16.00" height="1.10" fill="#a71897"/>
<rect x="416.00" y="1032.00" width="128.00" height="1.10" fill="#4c4697"/>
<rect x="544.00" y="1032.00" width="9.00" height="1.10" fill="#4f4597"/>
<rect x="246.00" y="1060.64" width="10.00" height="3.36" fill="#463e00"/>
<rect x="256.00" y="1060.64" width="160.00" height="3.36" fill="#4f3900"/>
<rect x="416.00" y="1060.64" width="13.00" height="3.36" fill="#473e00"/>
<rect x="246.00" y="1064.00" width="10.00" height="5.39" fill="#6c2b00"/>
<rect x="256.00" y="1064.00" width="160.00" height="5.39" fill="#941600"/>
<rect x="416.00" y="1064.00" width="13.00" height="5.39" fill="#831f00"/>
<rect x="246.00" y="1053.24" width="10.00" height="2.76" fill="#4a4797"/>
<rect x="256.00" y="1053.24" width="288.00" height="2.76" fill="#454a97"/>
<rect x="544.00" y="1053.24" width="2.00" height="2.76" fill="#504497"/>
<rect x="246.00" y="1056.00" width="10.00" height="5.34" fill="#5d3d97"/>
<rect x="256.00" y="1056.00" width="160.00" height="5.34" fill="#673897"/>
<rect x="416.00" y="1056.00" width="16.00" height="5.34" fill="#5f3d97"/>
<rect x="432.00" y="1056.00" width="112.00" height="5.34" fill="#3a4f97"/>
<rect x="544.00" y="1056.00" width="2.00" height="5.34" fill="#4e4597"/>
<rect x="246.00" y="1088.89" width="10.00" height="7.11" fill="#722800"/>
<rect x="256.00" y="1088.89" width="128.00" height="7.11" fill="#9e1100"/>
<rect x="384.00" y="1088.89" width="11.50" height="7.11" fill="#802100"/>
<rect x="246.00" y="1096.00" width="10.00" height="1.64" fill="#493d00"/>
<rect x="256.00" y="1096.00" width="128.00" height="1.64" fill="#553600"/>
<rect x="384.00" y="1096.00" width="11.50" height="1.64" fill="#4d3a00"/>
<rect x="246.00" y="1081.49" width="10.00" height="6.51" fill="#424c97"/>
<rect x="256.00" y="1081.49" width="288.00" height="6.51" fill="#355297"/>
<rect x="544.00" y="1081.49" width="2.00" height="6.51" fill="#4e4597"/>
<rect x="246.00" y="1088.00" width="10.00" height="1.59" fill="#8a2797"/>
<rect x="256.00" y="1088.00" width="128.00" height="1.59" fill="#b61097"/>
<rect x="384.00" y="1088.00" width="16.00" height="1.59" fill="#982097"/>
<rect x="400.00" y="1088.00" width="144.00" height="1.59" fill="#4a4797"/>
<rect x="544.00" y="1088.00" width="2.00" height="1.59" fill="#504497"/>
<rect x="246.00" y="1117.13" width="10.00" height="2.87" fill="#404100"/>
<rect x="256.00" y="1117.13" width="144.00" height="2.87" fill="#453f00"/>
<rect x="400.00" y="1117.13" width="5.00" height="2.87" fill="#2c4b00"/>
<rect x="246.00" y="1120.00" width="10.00" height="5.88" fill="#712800"/>
<rect x="256.00" y="1120.00" width="144.00" height="5.88" fill="#9c1200"/>
<rect x="400.00" y="1120.00" width="5.00" height="5.88" fill="#583500"/>
<rect x="246.00" y="1109.73" width="10.00" height="2.27" fill="#4c4697"/>
<rect x="256.00" y="1109.73" width="272.00" height="2.27" fill="#474997"/>
<rect x="528.00" y="1109.73" width="15.75" height="2.27" fill="#484897"/>
<rect x="246.00" y="1112.00" width="10.00" height="5.83" fill="#584097"/>
<rect x="256.00" y="1112.00" width="144.00" height="5.83" fill="#5c3e97"/>
<rect x="400.00" y="1112.00" width="16.00" height="5.83" fill="#444a97"/>
<rect x="416.00" y="1112.00" width="112.00" height="5.83" fill="#385097"/>
<rect x="528.00" y="1112.00" width="15.75" height="5.83" fill="#395097"/>
<rect x="246.00" y="1145.38" width="10.00" height="6.62" fill="#6c2b00"/>
<rect x="256.00" y="1145.38" width="144.00" height="6.62" fill="#941600"/>
<rect x="400.00" y="1145.38" width="0.50" height="6.62" fill="#344800"/>
<rect x="246.00" y="1152.00" width="10.00" height="2.13" fill="#4e3a00"/>
<rect x="256.00" y="1152.00" width="144.00" height="2.13" fill="#5d3200"/>
<rect x="400.00" y="1152.00" width="0.50" height="2.13" fill="#3b4400"/>
<rect x="246.00" y="1137.98" width="10.00" height="6.02" fill="#434b97"/>
<rect x="256.00" y="1137.98" width="272.00" height="6.02" fill="#385197"/>
<rect x="528.00" y="1137.98" width="2.75" height="6.02" fill="#4d4697"/>
<rect x="246.00" y="1144.00" width="10.00" height="2.08" fill="#842a97"/>
<rect x="256.00" y="1144.00" width="144.00" height="2.08" fill="#ac1597"/>
<rect x="400.00" y="1144.00" width="16.00" height="2.08" fill="#4b4797"/>
<rect x="416.00" y="1144.00" width="112.00" height="2.08" fill="#484897"/>
<rect x="528.00" y="1144.00" width="2.75" height="2.08" fill="#504497"/>
<rect x="246.00" y="1173.62" width="10.00" height="2.38" fill="#3a4400"/>
<rect x="256.00" y="1173.62" width="128.00" height="2.38" fill="#3b4400"/>
<rect x="384.00" y="1173.62" width="8.75" height="2.38" fill="#2e4a00"/>
<rect x="246.00" y="1176.00" width="10.00" height="6.37" fill="#762600"/>
<rect x="256.00" y="1176.00" width="128.00" height="6.37" fill="#a50e00"/>
<rect x="384.00" y="1176.00" width="8.75" height="6.37" fill="#742700"/>
<rect x="246.00" y="1166.22" width="10.00" height="1.78" fill="#4d4697"/>
<rect x="256.00" y="1166.22" width="270.50" height="1.78" fill="#4a4797"/>
<rect x="246.00" y="1168.00" width="138.00" height="6.32" fill="#524397"/>
<rect x="384.00" y="1168.00" width="16.00" height="6.32" fill="#464997"/>
<rect x="400.00" y="1168.00" width="112.00" height="6.32" fill="#365197"/>
<rect x="512.00" y="1168.00" width="14.50" height="6.32" fill="#395097"/>
<rect x="246.00" y="1201.86" width="10.00" height="6.14" fill="#672d00"/>
<rect x="256.00" y="1201.86" width="112.00" height="6.14" fill="#8a1c00"/>
<rect x="368.00" y="1201.86" width="6.00" height="6.14" fill="#513900"/>
<rect x="246.00" y="1208.00" width="10.00" height="2.61" fill="#523800"/>
<rect x="256.00" y="1208.00" width="112.00" height="2.61" fill="#652e00"/>
<rect x="368.00" y="1208.00" width="6.00" height="2.61" fill="#4a3c00"/>
<rect x="246.00" y="1194.46" width="10.00" height="5.54" fill="#444a97"/>
<rect x="256.00" y="1194.46" width="256.00" height="5.54" fill="#395097"/>
<rect x="512.00" y="1194.46" width="10.00" height="5.54" fill="#424b97"/>
<rect x="246.00" y="1200.00" width="10.00" height="2.56" fill="#7e2d97"/>
<rect x="256.00" y="1200.00" width="112.00" height="2.56" fill="#a21b97"/>
<rect x="368.00" y="1200.00" width="16.00" height="2.56" fill="#693897"/>
<rect x="384.00" y="1200.00" width="128.00" height="2.56" fill="#464997"/>
<rect x="512.00" y="1200.00" width="10.00" height="2.56" fill="#4a4797"/>
<rect x="246.00" y="1230.11" width="10.00" height="1.89" fill="#344700"/>
<rect x="256.00" y="1230.11" width="128.00" height="1.89" fill="#304900"/>
<rect x="384.00" y="1230.11" width="11.25" height="1.89" fill="#2a4c00"/>
<rect x="246.00" y="1232.00" width="10.00" height="6.86" fill="#7a2300"/>
<rect x="256.00" y="1232.00" width="128.00" height="6.86" fill="#ad0a00"/>
<rect x="384.00" y="1232.00" width="11.25" height="6.86" fill="#8b1b00"/>
<rect x="246.00" y="1222.71" width="10.00" height="1.29" fill="#4e4597"/>
<rect x="256.00" y="1222.71" width="256.00" height="1.29" fill="#4c4697"/>
<rect x="512.00" y="1222.71" width="2.50" height="1.29" fill="#504497"/>
<rect x="246.00" y="1224.00" width="10.00" height="6.81" fill="#4c4697"/>
<rect x="256.00" y="1224.00" width="128.00" height="6.81" fill="#484897"/>
<rect x="384.00" y="1224.00" width="16.00" height="6.81" fill="#424b97"/>
<rect x="400.00" y="1224.00" width="112.00" height="6.81" fill="#345297"/>
<rect x="512.00" y="1224.00" width="2.50" height="6.81" fill="#4d4697"/>
<rect x="246.00" y="1258.35" width="10.00" height="5.65" fill="#613000"/>
<rect x="256.00" y="1258.35" width="144.00" height="5.65" fill="#802100"/>
<rect x="400.00" y="1258.35" width="11.75" height="5.65" fill="#692c00"/>
<rect x="246.00" y="1264.00" width="10.00" height="3.10" fill="#573600"/>
<rect x="256.00" y="1264.00" width="144.00" height="3.10" fill="#6e2a00"/>
<rect x="400.00" y="1264.00" width="11.75" height="3.10" fill="#603100"/>
<rect x="246.00" y="1250.95" width="10.00" height="5.05" fill="#454a97"/>
<rect x="256.00" y="1250.95" width="240.00" height="5.05" fill="#3c4f97"/>
<rect x="496.00" y="1250.95" width="4.00" height="5.05" fill="#4c4697"/>
<rect x="246.00" y="1256.00" width="10.00" height="3.05" fill="#792f97"/>
<rect x="256.00" y="1256.00" width="144.00" height="3.05" fill="#972097"/>
<rect x="400.00" y="1256.00" width="16.00" height="3.05" fill="#812b97"/>
<rect x="416.00" y="1256.00" width="80.00" height="3.05" fill="#444a97"/>
<rect x="496.00" y="1256.00" width="4.00" height="3.05" fill="#4e4597"/>
<rect x="246.00" y="1286.60" width="10.00" height="1.40" fill="#2e4a00"/>
<rect x="256.00" y="1286.60" width="144.00" height="1.40" fill="#264e00"/>
<rect x="400.00" y="1286.60" width="0.50" height="1.40" fill="#1b5400"/>
<rect x="246.00" y="1288.00" width="10.00" height="7.35" fill="#7f2100"/>
<rect x="256.00" y="1288.00" width="144.00" height="7.35" fill="#b50600"/>
<rect x="400.00" y="1288.00" width="0.50" height="7.35" fill="#3d4300"/>
<rect x="246.00" y="1279.20" width="10.00" height="0.80" fill="#4f4597"/>
<rect x="256.00" y="1279.20" width="240.00" height="0.80" fill="#4e4597"/>
<rect x="496.00" y="1279.20" width="4.00" height="0.80" fill="#504497"/>
<rect x="246.00" y="1280.00" width="10.00" height="7.30" fill="#464997"/>
<rect x="256.00" y="1280.00" width="144.00" height="7.30" fill="#3e4d97"/>
<rect x="400.00" y="1280.00" width="96.00" height="7.30" fill="#325397"/>
<rect x="496.00" y="1280.00" width="4.00" height="7.30" fill="#494897"/>
<rect x="246.00" y="1314.84" width="10.00" height="5.16" fill="#5b3300"/>
<rect x="256.00" y="1314.84" width="96.00" height="5.16" fill="#752600"/>
<rect x="352.00" y="1314.84" width="0.50" height="5.16" fill="#2d4b00"/>
<rect x="246.00" y="1320.00" width="10.00" height="3.59" fill="#5b3300"/>
<rect x="256.00" y="1320.00" width="96.00" height="3.59" fill="#762600"/>
<rect x="352.00" y="1320.00" width="0.50" height="3.59" fill="#3b4400"/>
<rect x="246.00" y="1307.44" width="10.00" height="4.56" fill="#464997"/>
<rect x="256.00" y="1307.44" width="224.00" height="4.56" fill="#3e4e97"/>
<rect x="480.00" y="1307.44" width="2.00" height="4.56" fill="#4f4597"/>
<rect x="246.00" y="1312.00" width="10.00" height="3.54" fill="#733297"/>
<rect x="256.00" y="1312.00" width="96.00" height="3.54" fill="#8d2597"/>
<rect x="352.00" y="1312.00" width="16.00" height="3.54" fill="#444a97"/>
<rect x="368.00" y="1312.00" width="112.00" height="3.54" fill="#424b97"/>
<rect x="480.00" y="1312.00" width="2.00" height="3.54" fill="#4f4597"/>
<rect x="246.00" y="1343.08" width="10.00" height="0.92" fill="#294d00"/>
<rect x="256.00" y="1343.08" width="111.50" height="0.92" fill="#1b5400"/>
<rect x="246.00" y="1344.00" width="10.00" height="7.83" fill="#831f00"/>
<rect x="256.00" y="1344.00" width="96.00" height="7.83" fill="#bd0100"/>
<rect x="352.00" y="1344.00" width="15.50" height="7.83" fill="#b90400"/>
<rect x="246.00" y="1335.68" width="234.00" height="0.32" fill="#504497"/>
<rect x="480.00" y="1335.68" width="1.00" height="0.32" fill="#514497"/>
<rect x="246.00" y="1336.00" width="10.00" height="7.78" fill="#404c97"/>
<rect x="256.00" y="1336.00" width="112.00" height="7.78" fill="#335397"/>
<rect x="368.00" y="1336.00" width="112.00" height="7.78" fill="#305597"/>
<rect x="480.00" y="1336.00" width="1.00" height="7.78" fill="#4f4597"/>
<rect x="246.00" y="1371.33" width="10.00" height="4.67" fill="#553600"/>
<rect x="256.00" y="1371.33" width="112.00" height="4.67" fill="#6b2b00"/>
<rect x="368.00" y="1371.33" width="2.75" height="4.67" fill="#344700"/>
<rect x="246.00" y="1376.00" width="10.00" height="4.08" fill="#603100"/>
<rect x="256.00" y="1376.00" width="112.00" height="4.08" fill="#7e2200"/>
<rect x="368.00" y="1376.00" width="2.75" height="4.08" fill="#453f00"/>
<rect x="246.00" y="1363.93" width="10.00" height="4.07" fill="#474997"/>
<rect x="256.00" y="1363.93" width="176.00" height="4.07" fill="#404c97"/>
<rect x="432.00" y="1363.93" width="9.75" height="4.07" fill="#474997"/>
<rect x="246.00" y="1368.00" width="10.00" height="4.03" fill="#6d3597"/>
<rect x="256.00" y="1368.00" width="112.00" height="4.03" fill="#832a97"/>
<rect x="368.00" y="1368.00" width="16.00" height="4.03" fill="#4b4797"/>
<rect x="384.00" y="1368.00" width="48.00" height="4.03" fill="#404c97"/>
<rect x="432.00" y="1368.00" width="9.75" height="4.03" fill="#474997"/>
<rect x="246.00" y="1399.57" width="10.00" height="8.43" fill="#822000"/>
<rect x="256.00" y="1399.57" width="5.75" height="8.43" fill="#672d00"/>
<rect x="246.00" y="1408.00" width="10.00" height="0.32" fill="#3c4300"/>
<rect x="256.00" y="1408.00" width="5.75" height="0.32" fill="#3b4400"/>
<rect x="246.00" y="1392.17" width="10.00" height="7.83" fill="#3e4d97"/>
<rect x="256.00" y="1392.17" width="48.00" height="7.83" fill="#305597"/>
<rect x="304.00" y="1392.17" width="7.50" height="7.83" fill="#424c97"/>
<rect x="246.00" y="1400.00" width="10.00" height="0.27" fill="#9a1f97"/>
<rect x="256.00" y="1400.00" width="16.00" height="0.27" fill="#7f2c97"/>
<rect x="272.00" y="1400.00" width="32.00" height="0.27" fill="#504497"/>
<rect x="304.00" y="1400.00" width="7.50" height="0.27" fill="#514497"/>
<rect x="244.9" y="312.15" width="2.1" height="1102.72" fill="#000"/>
<rect x="244.9" y="800.00" width="2.1" height="8.00" fill="#000500"/>
<rect x="244.9" y="808.00" width="2.1" height="8.00" fill="#440000"/>
<rect x="244.9" y="824.00" width="2.1" height="8.00" fill="#000600"/>
<rect x="244.9" y="832.00" width="2.1" height="8.00" fill="#230000"/>
<rect x="244.9" y="840.00" width="2.1" height="8.00" fill="#210000"/>
<rect x="244.9" y="848.00" width="2.1" height="8.00" fill="#000100"/>
<rect x="244.9" y="856.00" width="2.1" height="8.00" fill="#000800"/>
<rect x="244.9" y="864.00" width="2.1" height="8.00" fill="#490000"/>
<rect x="244.9" y="880.00" width="2.1" height="8.00" fill="#000500"/>
<rect x="244.9" y="888.00" width="2.1" height="8.00" fill="#1d0000"/>
<rect x="244.9" y="896.00" width="2.1" height="8.00" fill="#250000"/>
<rect x="244.9" y="912.00" width="2.1" height="8.00" fill="#000a00"/>
<rect x="244.9" y="920.00" width="2.1" height="8.00" fill="#4a0000"/>
<rect x="244.9" y="928.00" width="2.1" height="8.00" fill="#020000"/>
<rect x="244.9" y="936.00" width="2.1" height="8.00" fill="#000500"/>
<rect x="244.9" y="944.00" width="2.1" height="8.00" fill="#180000"/>
<rect x="244.9" y="952.00" width="2.1" height="8.00" fill="#2a0000"/>
<rect x="244.9" y="968.00" width="2.1" height="8.00" fill="#000900"/>
<rect x="244.9" y="976.00" width="2.1" height="8.00" fill="#440000"/>
<rect x="244.9" y="984.00" width="2.1" height="8.00" fill="#060000"/>
<rect x="244.9" y="992.00" width="2.1" height="8.00" fill="#000400"/>
<rect x="244.9" y="1000.00" width="2.1" height="8.00" fill="#120000"/>
<rect x="244.9" y="1008.00" width="2.1" height="8.00" fill="#2e0000"/>
<rect x="244.9" y="1024.00" width="2.1" height="8.00" fill="#000900"/>
<rect x="244.9" y="1032.00" width="2.1" height="8.00" fill="#3f0000"/>
<rect x="244.9" y="1040.00" width="2.1" height="8.00" fill="#0b0000"/>
<rect x="244.9" y="1048.00" width="2.1" height="8.00" fill="#000300"/>
<rect x="244.9" y="1056.00" width="2.1" height="8.00" fill="#0c0000"/>
<rect x="244.9" y="1064.00" width="2.1" height="8.00" fill="#330000"/>
<rect x="244.9" y="1080.00" width="2.1" height="8.00" fill="#000800"/>
<rect x="244.9" y="1088.00" width="2.1" height="8.00" fill="#390000"/>
<rect x="244.9" y="1096.00" width="2.1" height="8.00" fill="#100000"/>
<rect x="244.9" y="1104.00" width="2.1" height="8.00" fill="#000300"/>
<rect x="244.9" y="1112.00" width="2.1" height="8.00" fill="#060000"/>
<rect x="244.9" y="1120.00" width="2.1" height="8.00" fill="#380000"/>
<rect x="244.9" y="1136.00" width="2.1" height="8.00" fill="#000700"/>
<rect x="244.9" y="1144.00" width="2.1" height="8.00" fill="#330000"/>
<rect x="244.9" y="1152.00" width="2.1" height="8.00" fill="#140000"/>
<rect x="244.9" y="1160.00" width="2.1" height="8.00" fill="#000200"/>
<rect x="244.9" y="1168.00" width="2.1" height="8.00" fill="#010000"/>
<rect x="244.9" y="1176.00" width="2.1" height="8.00" fill="#3c0000"/>
<rect x="244.9" y="1192.00" width="2.1" height="8.00" fill="#000700"/>
<rect x="244.9" y="1200.00" width="2.1" height="8.00" fill="#2d0000"/>
<rect x="244.9" y="1208.00" width="2.1" height="8.00" fill="#190000"/>
<rect x="244.9" y="1216.00" width="2.1" height="8.00" fill="#000200"/>
<rect x="244.9" y="1224.00" width="2.1" height="8.00" fill="#000300"/>
<rect x="244.9" y="1232.00" width="2.1" height="8.00" fill="#410000"/>
<rect x="244.9" y="1248.00" width="2.1" height="8.00" fill="#000600"/>
<rect x="244.9" y="1256.00" width="2.1" height="8.00" fill="#270000"/>
<rect x="244.9" y="1264.00" width="2.1" height="8.00" fill="#1d0000"/>
<rect x="244.9" y="1272.00" width="2.1" height="8.00" fill="#000100"/>
<rect x="244.9" y="1280.00" width="2.1" height="8.00" fill="#000600"/>
<rect x="244.9" y="1288.00" width="2.1" height="8.00" fill="#460000"/>
<rect x="244.9" y="1304.00" width="2.1" height="8.00" fill="#000600"/>
<rect x="244.9" y="1312.00" width="2.1" height="8.00" fill="#220000"/>
<rect x="244.9" y="1320.00" width="2.1" height="8.00" fill="#220000"/>
<rect x="244.9" y="1336.00" width="2.1" height="8.00" fill="#000900"/>
<rect x="244.9" y="1344.00" width="2.1" height="8.00" fill="#4a0000"/>
<rect x="244.9" y="1360.00" width="2.1" height="8.00" fill="#000500"/>
<rect x="244.9" y="1368.00" width="2.1" height="8.00" fill="#1c0000"/>
<rect x="244.9" y="1376.00" width="2.1" height="8.00" fill="#270000"/>
<rect x="244.9" y="1392.00" width="2.1" height="8.00" fill="#000a00"/>
<rect x="244.9" y="1400.00" width="2.1" height="8.00" fill="#480000"/>
<rect x="244.9" y="1408.00" width="2.1" height="6.87" fill="#030000"/>
<rect x="246" y="312.05" width="7.4" height="1.4" fill="#000"/>
<rect x="246" y="340.29" width="7.4" height="1.4" fill="#000"/>
<rect x="246" y="368.54" width="7.4" height="1.4" fill="#000"/>
<rect x="246" y="396.78" width="7.4" height="1.4" fill="#000"/>
<rect x="246" y="425.03" width="7.4" height="1.4" fill="#000"/>
<rect x="246" y="453.27" width="7.4" height="1.4" fill="#000"/>
<rect x="246" y="481.51" width="7.4" height="1.4" fill="#000"/>
<rect x="246" y="509.76" width="7.4" height="1.4" fill="#000"/>
<rect x="246" y="538.00" width="7.4" height="1.4" fill="#000"/>
<rect x="246" y="566.25" width="7.4" height="1.4" fill="#000"/>
<rect x="246" y="594.49" width="7.4" height="1.4" fill="#000"/>
<rect x="246" y="622.73" width="7.4" height="1.4" fill="#000"/>
<rect x="246" y="650.98" width="7.4" height="1.4" fill="#000"/>
<rect x="246" y="679.22" width="7.4" height="1.4" fill="#000"/>
<rect x="246" y="707.47" width="7.4" height="1.4" fill="#000"/>
<rect x="246" y="735.71" width="7.4" height="1.4" fill="#000"/>
<rect x="246" y="763.95" width="7.4" height="1.4" fill="#000"/>
<rect x="246" y="792.20" width="7.4" height="1.4" fill="#000"/>
<rect x="246" y="820.44" width="7.4" height="1.4" fill="#000"/>
<rect x="246" y="848.69" width="7.4" height="1.4" fill="#000"/>
<rect x="246" y="876.93" width="7.4" height="1.4" fill="#000"/>
<rect x="246" y="905.17" width="7.4" height="1.4" fill="#000"/>
<rect x="246" y="933.42" width="7.4" height="1.4" fill="#000"/>
<rect x="246" y="961.66" width="7.4" height="1.4" fill="#000"/>
<rect x="246" y="989.91" width="7.4" height="1.4" fill="#000"/>
<rect x="246" y="1018.15" width="7.4" height="1.4" fill="#000"/>
<rect x="246" y="1046.39" width="7.4" height="1.4" fill="#000"/>
<rect x="246" y="1074.64" width="7.4" height="1.4" fill="#000"/>
<rect x="246" y="1102.88" width="7.4" height="1.4" fill="#000"/>
<rect x="246" y="1131.13" width="7.4" height="1.4" fill="#000"/>
<rect x="246" y="1159.37" width="7.4" height="1.4" fill="#000"/>
<rect x="246" y="1187.61" width="7.4" height="1.4" fill="#000"/>
<rect x="246" y="1215.86" width="7.4" height="1.4" fill="#000"/>
<rect x="246" y="1244.10" width="7.4" height="1.4" fill="#000"/>
<rect x="246" y="1272.35" width="7.4" height="1.4" fill="#000"/>
<rect x="246" y="1300.59" width="7.4" height="1.4" fill="#000"/>
<rect x="246" y="1328.83" width="7.4" height="1.4" fill="#000"/>
<rect x="246" y="1357.08" width="7.4" height="1.4" fill="#000"/>
<rect x="246" y="1385.32" width="7.4" height="1.4" fill="#000"/>
<rect x="246" y="1413.57" width="7.4" height="1.4" fill="#000"/>
<text x="166.13" y="333.25" font-size="19.3px" fill="#262626" textLength="59.00" lengthAdjust="spacingAndGlyphs">Irlanda</text>
<text x="105.17" y="361.49" font-size="19.3px" fill="#262626" textLength="120.42" lengthAdjust="spacingAndGlyphs">Rep. de Corea</text>
<text x="180.37" y="389.74" font-size="19.3px" fill="#262626" textLength="45.16" lengthAdjust="spacingAndGlyphs">Suiza</text>
<text x="148.16" y="417.98" font-size="19.3px" fill="#262626" textLength="77.34" lengthAdjust="spacingAndGlyphs">Finlandia</text>
<text x="146.22" y="446.23" font-size="19.3px" fill="#262626" textLength="79.38" lengthAdjust="spacingAndGlyphs">Alemania</text>
<text x="157.87" y="474.47" font-size="19.3px" fill="#262626" textLength="67.58" lengthAdjust="spacingAndGlyphs">Lituania</text>
<text x="151.25" y="502.71" font-size="19.3px" fill="#262626" textLength="74.31" lengthAdjust="spacingAndGlyphs">Australia</text>
<text x="171.05" y="530.96" font-size="19.3px" fill="#262626" textLength="54.46" lengthAdjust="spacingAndGlyphs">Grecia</text>
<text x="133.35" y="559.2" font-size="19.3px" fill="#262626" textLength="92.19" lengthAdjust="spacingAndGlyphs">Dinamarca</text>
<text x="118.65" y="587.45" font-size="19.3px" fill="#262626" textLength="107.59" lengthAdjust="spacingAndGlyphs">Reino Unido</text>
<text x="182.69" y="615.69" font-size="19.3px" fill="#262626" textLength="43.45" lengthAdjust="spacingAndGlyphs">Chile</text>
<text x="90.88" y="643.93" font-size="19.3px" fill="#262626" textLength="134.58" lengthAdjust="spacingAndGlyphs">Nueva Zelandia</text>
<text x="151.75" y="672.18" font-size="19.3px" fill="#262626" textLength="74.88" lengthAdjust="spacingAndGlyphs">Portugal</text>
<text x="160.62" y="700.42" font-size="19.3px" fill="#262626" textLength="64.90" lengthAdjust="spacingAndGlyphs">Polonia</text>
<text x="145.15" y="728.67" font-size="19.3px" fill="#262626" textLength="80.40" lengthAdjust="spacingAndGlyphs">Eslovenia</text>
<text x="159.46" y="756.91" font-size="19.3px" fill="#262626" textLength="66.05" lengthAdjust="spacingAndGlyphs">Islandia</text>
<text x="160.60" y="785.15" font-size="19.3px" fill="#262626" textLength="64.94" lengthAdjust="spacingAndGlyphs">Canadá</text>
<text x="174.41" y="813.4" font-size="19.3px" fill="#262626" textLength="52.33" lengthAdjust="spacingAndGlyphs">Japón</text>
<text x="156.28" y="841.64" font-size="19.3px" fill="#262626" textLength="69.30" lengthAdjust="spacingAndGlyphs">Hungría</text>
<text x="93.08" y="869.89" font-size="19.3px" fill="#262626" textLength="133.14" lengthAdjust="spacingAndGlyphs">Estados Unidos</text>
<text x="164.08" y="898.13" font-size="19.3px" fill="#262626" textLength="61.38" lengthAdjust="spacingAndGlyphs">Bélgica</text>
<text x="122.12" y="926.37" font-size="19.3px" fill="#262626" textLength="104.08" lengthAdjust="spacingAndGlyphs">Países Bajos</text>
<text x="163.14" y="954.62" font-size="19.3px" fill="#262626" textLength="62.38" lengthAdjust="spacingAndGlyphs">Estonia</text>
<text x="180.11" y="982.86" font-size="19.3px" fill="#262626" textLength="46.67" lengthAdjust="spacingAndGlyphs">Israel</text>
<text x="149.27" y="1011.11" font-size="19.3px" fill="#262626" textLength="76.30" lengthAdjust="spacingAndGlyphs">Noruega</text>
<text x="166.22" y="1039.35" font-size="19.3px" fill="#262626" textLength="59.32" lengthAdjust="spacingAndGlyphs">Austria</text>
<text x="183.69" y="1067.59" font-size="19.3px" fill="#262626" textLength="41.83" lengthAdjust="spacingAndGlyphs">Italia</text>
<text x="163.21" y="1095.84" font-size="19.3px" fill="#262626" textLength="63.00" lengthAdjust="spacingAndGlyphs">México</text>
<text x="164.80" y="1124.08" font-size="19.3px" fill="#262626" textLength="61.40" lengthAdjust="spacingAndGlyphs">Türkiye</text>
<text x="135.79" y="1152.33" font-size="19.3px" fill="#262626" textLength="89.66" lengthAdjust="spacingAndGlyphs">Costa Rica</text>
<text x="165.19" y="1180.57" font-size="19.3px" fill="#262626" textLength="60.34" lengthAdjust="spacingAndGlyphs">España</text>
<text x="161.86" y="1208.81" font-size="19.3px" fill="#262626" textLength="63.71" lengthAdjust="spacingAndGlyphs">Letonia</text>
<text x="130.18" y="1237.06" font-size="19.3px" fill="#262626" textLength="95.47" lengthAdjust="spacingAndGlyphs">Rep. Checa</text>
<text x="164.10" y="1265.3" font-size="19.3px" fill="#262626" textLength="61.44" lengthAdjust="spacingAndGlyphs">Francia</text>
<text x="142.71" y="1293.55" font-size="19.3px" fill="#262626" textLength="82.81" lengthAdjust="spacingAndGlyphs">Colombia</text>
<text x="109.19" y="1321.79" font-size="19.3px" fill="#262626" textLength="116.35" lengthAdjust="spacingAndGlyphs">Rep. Eslovaca</text>
<text x="179.19" y="1350.03" font-size="19.3px" fill="#262626" textLength="47.57" lengthAdjust="spacingAndGlyphs">Brasil</text>
<text x="170.07" y="1378.28" font-size="19.3px" fill="#262626" textLength="55.48" lengthAdjust="spacingAndGlyphs">Suecia</text>
<text x="116.78" y="1406.52" font-size="19.3px" fill="#262626" textLength="109.35" lengthAdjust="spacingAndGlyphs">Luxemburgo</text>
<text class="ax" x="246.10" y="1452.2">0</text>
<text class="ax" x="354.60" y="1452.2">0,1</text>
<text class="ax" x="462.35" y="1452.2">0,2</text>
<text class="ax" x="571.35" y="1452.2">0,3</text>
<text class="ax" x="680.10" y="1452.2">0,4</text>
<text class="ax" x="788.10" y="1452.2">0,5</text>
<text class="ax" x="896.60" y="1452.2">0,6</text>
<text class="ax" x="1005.85" y="1452.2">0,7</text>
<text class="ax" x="1114.10" y="1452.2">0,8</text>
<defs><clipPath id="imf">
<path d="M1047.8 1520.4 H1057.1 V1556.8 H1047.8 Z"/>
<path d="M1064.6 1556.8 V1520.4 H1078.2 L1086.8 1544.6 L1095.4 1520.4 H1109 V1556.8 H1100.2 V1530.5 L1090.6 1556.8 H1083 L1073.4 1530.5 V1556.8 Z"/>
<path d="M1118 1556.8 V1520.4 H1142.8 V1527.2 H1126.8 V1536 H1141.4 V1542.6 H1126.8 V1556.8 Z"/>
</clipPath></defs>
<g clip-path="url(#imf)">
<rect x="1040" y="1520" width="16" height="8" fill="#203c97"/>
<rect x="1056" y="1520" width="16" height="8" fill="#1f3c97"/>
<rect x="1072" y="1520" width="16" height="8" fill="#223a97"/>
<rect x="1088" y="1520" width="16" height="8" fill="#1a3f97"/>
<rect x="1104" y="1520" width="16" height="8" fill="#243997"/>
<rect x="1120" y="1520" width="16" height="8" fill="#074897"/>
<rect x="1136" y="1520" width="16" height="8" fill="#283897"/>
<rect x="1040" y="1528" width="16" height="8" fill="#1e3d97"/>
<rect x="1056" y="1528" width="16" height="8" fill="#1d3d97"/>
<rect x="1072" y="1528" width="16" height="8" fill="#193f97"/>
<rect x="1088" y="1528" width="16" height="8" fill="#0f4497"/>
<rect x="1104" y="1528" width="16" height="8" fill="#233a97"/>
<rect x="1120" y="1528" width="16" height="8" fill="#243a97"/>
<rect x="1136" y="1528" width="16" height="8" fill="#3e2d97"/>
<rect x="1040" y="1536" width="16" height="8" fill="#1e3d97"/>
<rect x="1056" y="1536" width="16" height="8" fill="#1d3d97"/>
<rect x="1072" y="1536" width="16" height="8" fill="#184097"/>
<rect x="1088" y="1536" width="16" height="8" fill="#104497"/>
<rect x="1104" y="1536" width="16" height="8" fill="#233a97"/>
<rect x="1120" y="1536" width="16" height="8" fill="#074997"/>
<rect x="1136" y="1536" width="16" height="8" fill="#2d3597"/>
<rect x="1040" y="1544" width="16" height="8" fill="#1e3d97"/>
<rect x="1056" y="1544" width="16" height="8" fill="#1d3d97"/>
<rect x="1072" y="1544" width="16" height="8" fill="#193f97"/>
<rect x="1088" y="1544" width="16" height="8" fill="#193f97"/>
<rect x="1104" y="1544" width="16" height="8" fill="#233a97"/>
<rect x="1120" y="1544" width="16" height="8" fill="#243a97"/>
<rect x="1136" y="1544" width="16" height="8" fill="#3e2d97"/>
<rect x="1040" y="1552" width="16" height="8" fill="#2b3697"/>
<rect x="1056" y="1552" width="16" height="8" fill="#2a3697"/>
<rect x="1072" y="1552" width="16" height="8" fill="#2d3597"/>
<rect x="1088" y="1552" width="16" height="8" fill="#2d3597"/>
<rect x="1104" y="1552" width="16" height="8" fill="#2e3597"/>
<rect x="1120" y="1552" width="16" height="8" fill="#2e3497"/>
<rect x="1136" y="1552" width="16" height="8" fill="#3e2d97"/>
</g>
</svg>
</body></html>
